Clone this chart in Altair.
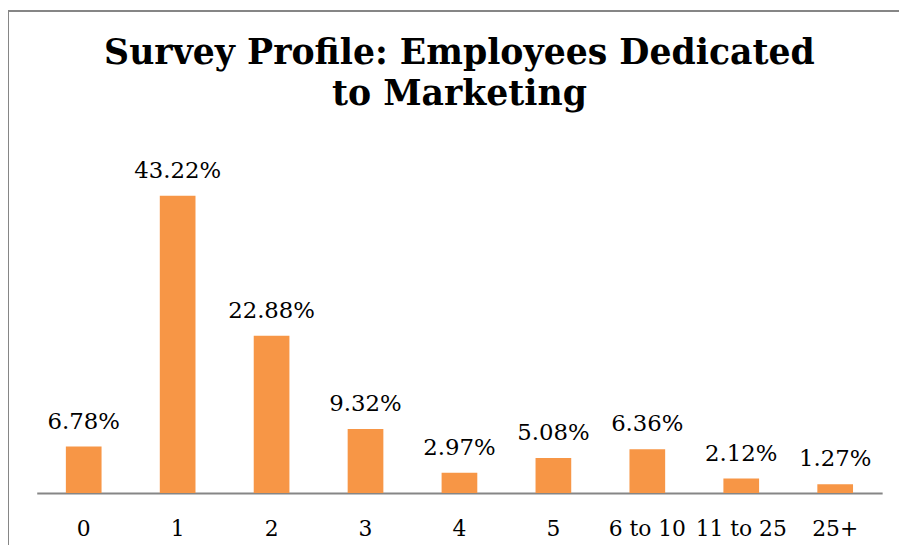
import altair as alt
import pandas as pd

categories = ["0", "1", "2", "3", "4", "5", "6 to 10", "11 to 25", "25+"]
values = [6.78, 43.22, 22.88, 9.32, 2.97, 5.08, 6.36, 2.12, 1.27]
labels = ["6.78%", "43.22%", "22.88%", "9.32%", "2.97%", "5.08%", "6.36%", "2.12%", "1.27%"]

df = pd.DataFrame({"cat": categories, "val": values, "lab": labels})

W, H = 853, 347
PAD_L, PAD_T = 29, 140

x = alt.X("cat:N", sort=categories, title=None,
          scale=alt.Scale(paddingInner=0.62, paddingOuter=0.31),
          axis=alt.Axis(labelAngle=0, ticks=False, tickSize=0, labelPadding=26,
                        labelFont="DejaVu Serif", labelFontSize=22, labelColor="#000000",
                        domainColor="#868686", domainWidth=2, labelOverlap=False))
y = alt.Y("val:Q", title=None, scale=alt.Scale(domain=[0, 50], nice=False), axis=None)

base = alt.Chart(df)

bars = base.mark_bar(color="#F79646").encode(x=x, y=y)
text = base.mark_text(font="DejaVu Serif", fontSize=23, color="#000000",
                      baseline="alphabetic", dy=-18).encode(x=x, y=y, text="lab:N")

frame = alt.Chart(pd.DataFrame({"a": [0]})).mark_rect(
    fill=None, stroke="#868686", strokeWidth=2, clip=False
).encode(x=alt.value(-29), x2=alt.value(1000), y=alt.value(-139.5), y2=alt.value(1000))

chart = alt.layer(frame, bars, text).properties(
    width=W, height=H,
    title=alt.TitleParams(
        text=["Survey Profile: Employees Dedicated", "to Marketing"],
        font="DejaVu Serif", fontSize=35, fontWeight="bold", color="#000000",
        anchor="middle", frame="group", lineHeight=41, offset=-103,
    ),
    autosize=alt.AutoSizeParams(type="none"),
    padding={"left": PAD_L, "top": PAD_T, "right": 17, "bottom": 50},
).configure_view(stroke=None)

chart.save("out.html", embed_options={"renderer": "svg", "actions": False})
